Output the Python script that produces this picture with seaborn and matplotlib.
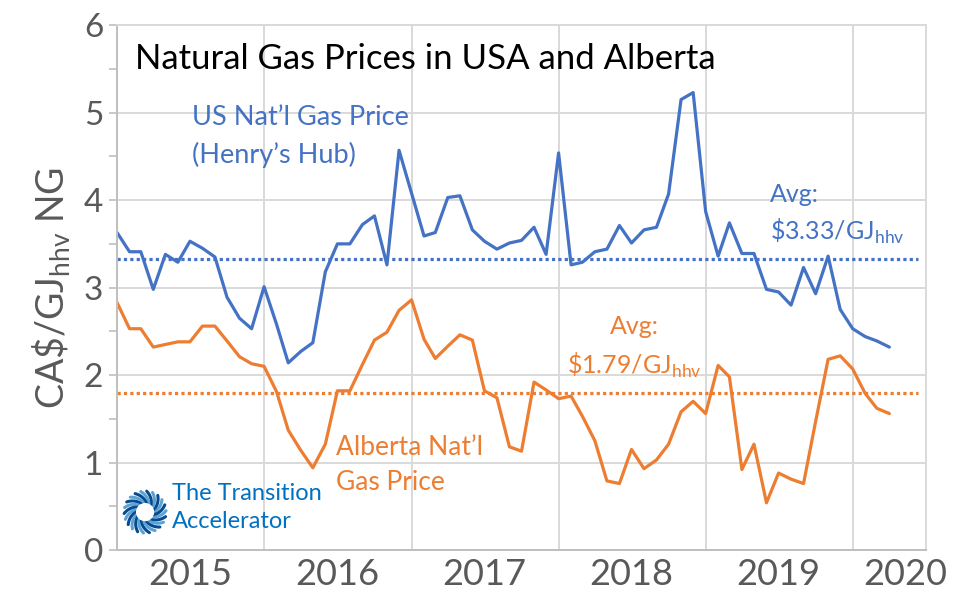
import numpy as np
import pandas as pd
import seaborn as sns
import matplotlib.pyplot as plt

# monthly prices, CA$/GJ (hhv), Jan 2015 .. Apr 2020
months = pd.date_range("2015-01-01", "2020-04-01", freq="MS")
us_price = [3.63, 3.41, 3.41, 2.98, 3.38, 3.29, 3.53, 3.45, 3.35, 2.89, 2.65, 2.53,
            3.01, 2.58, 2.14, 2.27, 2.37, 3.18, 3.50, 3.50, 3.72, 3.82, 3.26, 4.57,
            4.08, 3.59, 3.63, 4.03, 4.05, 3.66, 3.53, 3.44, 3.51, 3.54, 3.69, 3.38,
            4.54, 3.26, 3.29, 3.41, 3.44, 3.71, 3.51, 3.66, 3.69, 4.07, 5.15, 5.23,
            3.87, 3.36, 3.74, 3.39, 3.39, 2.98, 2.95, 2.80, 3.23, 2.93, 3.36, 2.75,
            2.53, 2.44, 2.39, 2.32]
ab_price = [2.83, 2.53, 2.53, 2.32, 2.35, 2.38, 2.38, 2.56, 2.56, 2.39, 2.21, 2.13,
            2.10, 1.81, 1.37, 1.14, 0.94, 1.21, 1.82, 1.82, 2.12, 2.40, 2.49, 2.74,
            2.86, 2.41, 2.19, 2.33, 2.46, 2.40, 1.82, 1.74, 1.18, 1.13, 1.92, 1.83,
            1.73, 1.76, 1.53, 1.25, 0.79, 0.76, 1.15, 0.93, 1.03, 1.21, 1.58, 1.70,
            1.56, 2.11, 1.98, 0.92, 1.21, 0.54, 0.88, 0.81, 0.76, 1.47, 2.18, 2.22,
            2.07, 1.79, 1.62, 1.56]
us_avg = 3.33
ab_avg = 1.79
year_labels = ["2015", "2016", "2017", "2018", "2019", "2020"]
label_dates = pd.to_datetime(["2015-07-01", "2016-07-01", "2017-07-01",
                              "2018-07-01", "2019-07-01", "2020-05-10"])

BLUE = "#4472C4"
ORANGE = "#ED7D31"
GREY = "#595959"

sns.set_theme(style="whitegrid")
plt.rcParams["font.family"] = ["Lato", "DejaVu Sans"]

data = pd.DataFrame({"month": months, "US": us_price, "Alberta": ab_price})
data = data.melt(id_vars="month", var_name="series", value_name="price")

fig, ax = plt.subplots(figsize=(9.64, 6.0), dpi=100)
fig.subplots_adjust(left=0.1214, right=0.9606, bottom=0.0833, top=0.958)

sns.lineplot(data=data, x="month", y="price", hue="series",
             palette={"US": BLUE, "Alberta": ORANGE}, linewidth=2.3,
             legend=False, ax=ax)

ax.axhline(us_avg, xmin=0.0, xmax=0.99, color=BLUE, lw=2.3, ls=(0, (1, 1)))
ax.axhline(ab_avg, xmin=0.0, xmax=0.99, color=ORANGE, lw=2.3, ls=(0, (1, 1)))

# axes
ax.set_xlim(pd.Timestamp("2015-01-01"), pd.Timestamp("2020-07-01"))
ax.set_ylim(0, 6)
ax.set_xticks(pd.date_range("2015-01-01", "2020-01-01", freq="YS"), labels=[""] * 6)
ax.set_xticks(label_dates, labels=year_labels, minor=True)
ax.set_yticks(range(0, 7))
ax.set_yticks(np.arange(0.5, 6, 1.0), minor=True)
ax.grid(which="major", color="#D9D9D9", lw=1.4)
ax.grid(which="minor", visible=False)
ax.tick_params(axis="x", which="both", length=0, labelsize=26, labelcolor=GREY, pad=6)
ax.tick_params(axis="y", which="both", left=True, length=6, width=1.2,
               color="#BFBFBF", labelsize=24, labelcolor=GREY, pad=4)
for s in ["top", "right"]:
    ax.spines[s].set_color("#D9D9D9")
for s in ["left", "bottom"]:
    ax.spines[s].set_color("#BFBFBF")
for s in ax.spines.values():
    s.set_linewidth(1.4)

ax.set_xlabel("")
ax.set_ylabel("CA\\$/GJ$_{\\mathregular{hhv}}$ NG", fontsize=27, color=GREY, labelpad=8)

# texts
ax.text(0.022, 0.935, "Natural Gas Prices in USA and Alberta", transform=ax.transAxes,
        fontsize=25, color="black", va="center", ha="left")
ax.text(0.093, 0.847, "US Nat\u2019l Gas Price\n(Henry\u2019s Hub)", transform=ax.transAxes,
        fontsize=19.5, color=BLUE, va="top", ha="left", linespacing=1.55)
ax.text(0.807, 0.700, "Avg:\n\\$3.33/GJ$_{\\mathregular{hhv}}$", transform=ax.transAxes,
        fontsize=18, color=BLUE, va="top", ha="left", linespacing=1.5)
ax.text(0.556, 0.448, "Avg:\n\\$1.79/GJ$_{\\mathregular{hhv}}$", transform=ax.transAxes,
        fontsize=18, color=ORANGE, va="top", ha="left", multialignment="center",
        linespacing=1.55)
ax.text(0.271, 0.219, "Alberta Nat\u2019l\nGas Price", transform=ax.transAxes,
        fontsize=19, color=ORANGE, va="top", ha="left", linespacing=1.5)
ax.text(0.068, 0.128, "The Transition\nAccelerator", transform=ax.transAxes,
        fontsize=17, color="#0070C0", va="top", ha="left", linespacing=1.45)

# logo (turbine-like ring)
lax = fig.add_axes([0.1265, 0.108, 0.048, 0.077])
lax.set_aspect("equal")
lax.axis("off")
for k in range(22):
    th = 2 * np.pi * k / 22
    r = np.linspace(0.42, 1.0, 20)
    ang = th + 1.1 * (r - 0.42)
    shade = plt.cm.Blues(0.55 + 0.35 * (k % 2))
    lax.plot(r * np.cos(ang), r * np.sin(ang), color=shade, lw=2.2, solid_capstyle="round")
lax.add_patch(plt.Circle((0, 0), 0.4, color="white", zorder=5))
lax.set_xlim(-1.1, 1.1)
lax.set_ylim(-1.1, 1.1)

plt.savefig("out.png", dpi=100)
